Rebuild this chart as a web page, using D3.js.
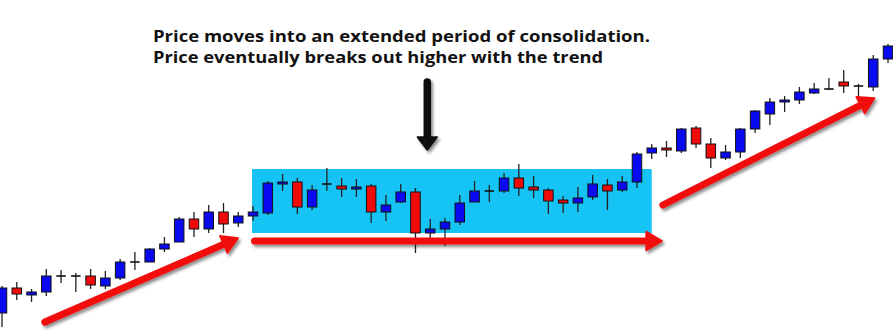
<!DOCTYPE html>
<html>
<head>
<meta charset="utf-8">
<script src="https://cdn.jsdelivr.net/npm/d3@7"></script>
<style>
  html, body { margin: 0; padding: 0; background: #fff; }
  svg { display: block; }
</style>
</head>
<body>
<div id="chart"></div>
<script>
// candle values (arbitrary price units)
var opens  = [87,112,105,108,124,124,124,114,122,138,138,151,158,181,171,188,177,184,187,216,
              218,193,216,214,211,214,188,198,208,167,171,178,198,209,209,222,213,210,200,197,
              203,215,210,218,247,252,249,272,256,242,248,271,286,298,300,307,311,318,314,313,341];
var highs  = [114,118,111,131,130,127,131,129,141,148,152,163,183,188,195,197,188,194,219,226,
              222,215,232,222,221,216,205,216,212,181,182,205,219,215,227,236,224,212,204,213,
              225,221,224,248,256,259,272,274,262,255,272,290,302,304,313,317,322,330,316,345,356];
var lows   = [73,100,98,104,117,108,111,111,120,130,138,148,158,163,167,167,173,179,185,209,
              186,190,209,203,203,177,179,197,147,162,154,175,198,198,207,204,202,186,187,188,
              200,190,208,212,241,243,247,252,232,240,242,267,275,288,296,306,310,307,303,309,337];
var closes = [112,106,108,124,124,124,115,122,138,138,151,156,181,171,188,176,184,188,217,218,
              193,210,216,211,213,188,195,208,167,171,178,197,209,209,222,212,210,199,197,202,
              216,209,218,246,252,250,271,256,242,248,271,289,298,300,308,311,311,314,314,341,354];

// consolidation box: candle index range and price range
var boxRange = [17, 44];
var boxPrices = [167, 231];

// red trend arrows: [index, price] pairs
var trendArrows = [
  [[2.9, 78], [16.0, 162]],
  [[17.1, 159], [44.7, 159]],
  [[44.75, 195], [59.1, 302]]
];
// black pointer arrow
var pointer = [[28.8, 318], [28.8, 250]];

var noteLines = [
  "Price moves into an extended period of consolidation.",
  "Price eventually breaks out higher with the trend"
];

var width = 893, height = 331;

var data = opens.map(function(o, i) {
  return {i: i, open: o, high: highs[i], low: lows[i], close: closes[i]};
});

var x = d3.scaleLinear().domain([0, 60]).range([2, 888]);
var y = d3.scaleLinear().domain([69, 400]).range([331, 0]);

var svg = d3.select("#chart").append("svg")
    .attr("width", width)
    .attr("height", height);

var defs = svg.append("defs");
defs.append("filter").attr("id", "shadow")
    .attr("x", "-20%").attr("y", "-20%").attr("width", "140%").attr("height", "160%")
  .append("feDropShadow")
    .attr("dx", 2).attr("dy", 2.5).attr("stdDeviation", 1.6)
    .attr("flood-color", "#000").attr("flood-opacity", 0.45);

svg.append("rect")
    .attr("width", width).attr("height", height)
    .attr("fill", "#fff");

// consolidation box
svg.append("rect")
    .attr("class", "box")
    .attr("x", x(boxRange[0]) - 1)
    .attr("y", y(boxPrices[1]))
    .attr("width", x(boxRange[1]) - x(boxRange[0]) + 1)
    .attr("height", y(boxPrices[0]) - y(boxPrices[1]))
    .attr("fill", "#16c3f5");

// candles
var bodyW = 9.5;
var candle = svg.append("g").attr("class", "candlestick")
  .selectAll("g").data(data).enter().append("g");

candle.append("line")
    .attr("x1", function(d) { return x(d.i); })
    .attr("x2", function(d) { return x(d.i); })
    .attr("y1", function(d) { return y(d.high); })
    .attr("y2", function(d) { return y(d.low); })
    .attr("stroke", "#222")
    .attr("stroke-width", 1.3);

candle.filter(function(d) { return d.open !== d.close; })
  .append("rect")
    .attr("x", function(d) { return x(d.i) - bodyW / 2; })
    .attr("y", function(d) { return y(Math.max(d.open, d.close)); })
    .attr("width", bodyW)
    .attr("height", function(d) { return Math.max(1.5, Math.abs(y(d.open) - y(d.close))); })
    .attr("fill", function(d) { return d.close > d.open ? "#0a0af0" : "#f00a0a"; })
    .attr("stroke", "#111")
    .attr("stroke-width", 1);

candle.filter(function(d) { return d.open === d.close; })
  .append("line")
    .attr("x1", function(d) { return x(d.i) - bodyW / 2; })
    .attr("x2", function(d) { return x(d.i) + bodyW / 2; })
    .attr("y1", function(d) { return y(d.open); })
    .attr("y2", function(d) { return y(d.open); })
    .attr("stroke", "#111")
    .attr("stroke-width", 1.6);

// arrow with a round tail and a triangle head
function drawArrow(g, p1, p2, w, headLen, headW, color) {
  var x1 = x(p1[0]), y1 = y(p1[1]), x2 = x(p2[0]), y2 = y(p2[1]);
  var dx = x2 - x1, dy = y2 - y1, len = Math.sqrt(dx * dx + dy * dy);
  var ux = dx / len, uy = dy / len, nx = -uy, ny = ux;
  var bx = x2 - ux * headLen, by = y2 - uy * headLen;
  var a = g.append("g").attr("filter", "url(#shadow)");
  a.append("line")
      .attr("x1", x1).attr("y1", y1)
      .attr("x2", bx + ux * 2).attr("y2", by + uy * 2)
      .attr("stroke", color)
      .attr("stroke-width", w)
      .attr("stroke-linecap", "round");
  a.append("path")
      .attr("d", "M" + x2 + "," + y2 +
                 "L" + (bx + nx * headW / 2) + "," + (by + ny * headW / 2) +
                 "L" + (bx - nx * headW / 2) + "," + (by - ny * headW / 2) + "Z")
      .attr("fill", color)
      .attr("stroke", color)
      .attr("stroke-width", 1.5)
      .attr("stroke-linejoin", "round");
}

var arrows = svg.append("g").attr("class", "arrows");
trendArrows.forEach(function(p) {
  drawArrow(arrows, p[0], p[1], 7, 16, 19, "#f20f0f");
});
drawArrow(arrows, pointer[0], pointer[1], 7.5, 13, 20, "#111");

// annotation text
svg.append("g").attr("class", "note")
  .selectAll("text").data(noteLines).enter().append("text")
    .attr("x", 153)
    .attr("y", function(d, i) { return 42 + i * 21; })
    .attr("textLength", function(d, i) { return i === 0 ? 497 : 450; })
    .attr("lengthAdjust", "spacingAndGlyphs")
    .style("font-family", "'Open Sans', sans-serif")
    .style("font-weight", 700)
    .style("font-size", "15.5px")
    .style("fill", "#111")
    .text(function(d) { return d; });
</script>
</body>
</html>
